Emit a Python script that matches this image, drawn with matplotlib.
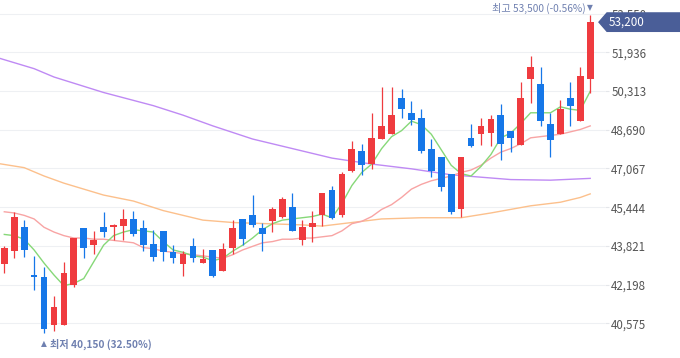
import numpy as np
import matplotlib
matplotlib.use("Agg")
from matplotlib import pyplot as plt
from matplotlib.patches import Polygon

plt.rcParams['font.family'] = ['Noto Sans CJK KR', 'DejaVu Sans']

# daily candles (open, high, low, close), oldest first
opens = [43050, 43600, 44600, 42600, 42500, 40500, 40500, 42200, 44550, 43850,
         44600, 44600, 44650, 44950, 44550, 43900, 44450, 43550, 43050, 43800,
         43100, 43650, 42750, 43750, 44950, 45100, 44550, 44850, 45050, 45450,
         44050, 44600, 45100, 46150, 45100, 46950, 47800, 47250, 48300, 48500,
         50000, 49400, 49200, 47900, 47550, 46850, 45350, 48350, 48500, 48550,
         49300, 48650, 48050, 50800, 50600, 48950, 48500, 50000, 49050, 50800]
highs = [43800, 45250, 44900, 43400, 42950, 41700, 43150, 44150, 44550, 44450,
         45250, 44750, 45350, 45300, 44900, 44500, 44450, 43850, 43600, 44150,
         43700, 43650, 43950, 44900, 44950, 45950, 44800, 45450, 45850, 46050,
         44900, 45300, 46050, 46350, 46900, 48200, 48100, 49400, 50500, 50500,
         50400, 49900, 49550, 48300, 47550, 46850, 47550, 48950, 49200, 49300,
         49750, 48650, 50700, 51800, 51300, 49400, 49950, 50700, 51300, 53500]
lows = [42700, 43300, 43350, 41950, 40150, 40250, 40500, 42100, 43300, 43500,
        44200, 44050, 44050, 44250, 43600, 43200, 43200, 43100, 42550, 43150,
        43100, 42500, 42750, 43500, 43850, 44600, 43600, 44400, 45000, 44450,
        43850, 44000, 44650, 44950, 45050, 46900, 46800, 47050, 48300, 48500,
        49200, 48900, 47700, 46700, 46100, 45150, 45050, 47950, 48050, 48000,
        47400, 47750, 48050, 49800, 48850, 47550, 48500, 48850, 49050, 50250]
closes = [43750, 45050, 43650, 42500, 40350, 41250, 42700, 44150, 43750, 44050,
          44400, 44700, 44950, 44300, 43850, 43350, 43550, 43300, 43500, 43300,
          43250, 42550, 43700, 44550, 44100, 44700, 44300, 45350, 45800, 44450,
          44600, 44800, 46050, 45000, 46850, 47900, 47200, 48350, 48850, 49300,
          49550, 49100, 47800, 46950, 46300, 45250, 47550, 48000, 48850, 49150,
          48100, 48350, 50000, 51300, 49050, 48250, 49550, 49700, 50950, 53200]

# moving averages
ma5 = [44300, 44250, 44100, 43650, 43100, 42600, 42150, 42250, 42450, 43150,
       43850, 44250, 44400, 44500, 44450, 44400, 44000, 43650, 43550, 43400,
       43350, 43200, 43300, 43600, 43850, 44150, 44500, 44750, 44900, 44950,
       45000, 45050, 45150, 45000, 45600, 46350, 46900, 47250, 47900, 48400,
       48650, 49050, 48900, 48500, 47850, 47200, 46850, 46750, 47150, 47650,
       48350, 48550, 48950, 49400, 49400, 49400, 49650, 49550, 49500, 50300]
ma20 = [45250, 45200, 45100, 44950, 44600, 44400, 44250, 44150, 44150, 44100,
        44100, 44050, 44000, 43950, 43750, 43700, 43600, 43550, 43500, 43450,
        43400, 43350, 43300, 43450, 43650, 43800, 43950, 44000, 44100, 44100,
        44150, 44150, 44200, 44250, 44450, 44750, 44850, 45050, 45350, 45550,
        45850, 46200, 46400, 46550, 46650, 46750, 46900, 47000, 47200, 47500,
        47750, 47900, 48100, 48350, 48400, 48450, 48500, 48600, 48700, 48850]
ma60_idx = [-1, 2, 4, 6, 10, 13, 16, 20, 23, 30, 32, 35, 38, 42, 46, 49, 53, 56, 58, 59]
ma60 = [47300, 47100, 46750, 46450, 45950, 45700, 45300, 44900, 44800, 44700,
        44650, 44800, 44950, 45000, 45000, 45200, 45500, 45650, 45850, 46000]
ma120_idx = [-1, 3, 5, 10, 15, 18, 21, 25, 29, 33, 37, 41, 45, 48, 51, 55, 59]
ma120 = [51750, 51250, 50900, 50250, 49700, 49300, 48850, 48300, 47900, 47500,
         47250, 47050, 46800, 46700, 46600, 46575, 46650]

ticks = [40575, 42198, 43821, 45444, 47067, 48690, 50313, 51936, 53550]

W, H = 680, 358
fig = plt.figure(figsize=(W / 100, H / 100), dpi=100)
ax = fig.add_axes([0, 0, 605 / W, 1])

x = np.arange(len(closes))
o = np.array(opens); c = np.array(closes)
up = c >= o
cols = np.where(up, '#ef3b3f', '#1677e8')

ax.plot(ma120_idx, ma120, color='#bf8af4', lw=1.0, zorder=2)
ax.plot(ma60_idx, ma60, color='#fcc08c', lw=1.0, zorder=2)
ax.plot(x, ma20, color='#f8a4a4', lw=1.0, zorder=2)
ax.plot(x, ma5, color='#86d878', lw=1.0, zorder=2)

ax.vlines(x, lows, highs, colors=cols, lw=0.9, zorder=3)
bot = np.minimum(o, c)
hgt = np.maximum(np.abs(c - o), 30)
ax.bar(x, hgt, bottom=bot, width=0.68, color=cols, zorder=4, linewidth=0)

ax.set_xlim(-0.433, 60.49)
ax.set_ylim(39120, 54128)
ax.set_yticks(ticks)
ax.set_yticklabels([f'{t:,}' for t in ticks])
ax.set_xticks([])
ax.grid(axis='y', color='#eef0f3', lw=0.8, zorder=0)
ax.tick_params(axis='y', left=False, right=True, labelleft=False, labelright=True,
               length=3, color='#e4e6ea', pad=1.5, labelsize=8.3, labelcolor='#555555')
for s in ax.spines.values():
    s.set_visible(False)

# high / low markers
ihi = int(np.argmax(highs))
ilo = int(np.argmin(lows))
hi, lo = highs[ihi], lows[ilo]
last = closes[-1]
ann = '#6f80b0'
ax.annotate('▼', (ihi, hi), xytext=(0, 7), textcoords='offset pixels',
            ha='center', va='center', fontsize=5.5, color=ann, zorder=6,
            family=['DejaVu Sans'])
ax.annotate(f'최고 {hi:,} ({(last - hi) / hi * 100:.2f}%)', (ihi, hi), xytext=(-5, 7),
            textcoords='offset pixels', ha='right', va='center', fontsize=7.3,
            color=ann, zorder=6)
ax.annotate('▲', (ilo, lo), xytext=(0, -10.5), textcoords='offset pixels',
            ha='center', va='center', fontsize=5.5, color=ann, zorder=6,
            family=['DejaVu Sans'])
ax.annotate(f'최저 {lo:,} ({(last - lo) / lo * 100:.2f}%)', (ilo, lo), xytext=(6, -10.5),
            textcoords='offset pixels', ha='left', va='center', fontsize=7.3,
            color=ann, fontweight='bold', zorder=6)

# current price badge
ypix = H - ax.transData.transform((0, last))[1]
yf = 1 - ypix / H
hh = 9.2 / H
badge = Polygon([(599 / W, yf), (607 / W, yf + hh), (1, yf + hh), (1, yf - hh), (607 / W, yf - hh)],
                closed=True, transform=fig.transFigure, color='#4a5e98', zorder=10)
fig.patches.append(badge)
fig.text(609 / W, yf, f'{last:,}', color='white', fontsize=8.4, va='center', ha='left', zorder=11)

fig.savefig('out.png', dpi=100)
